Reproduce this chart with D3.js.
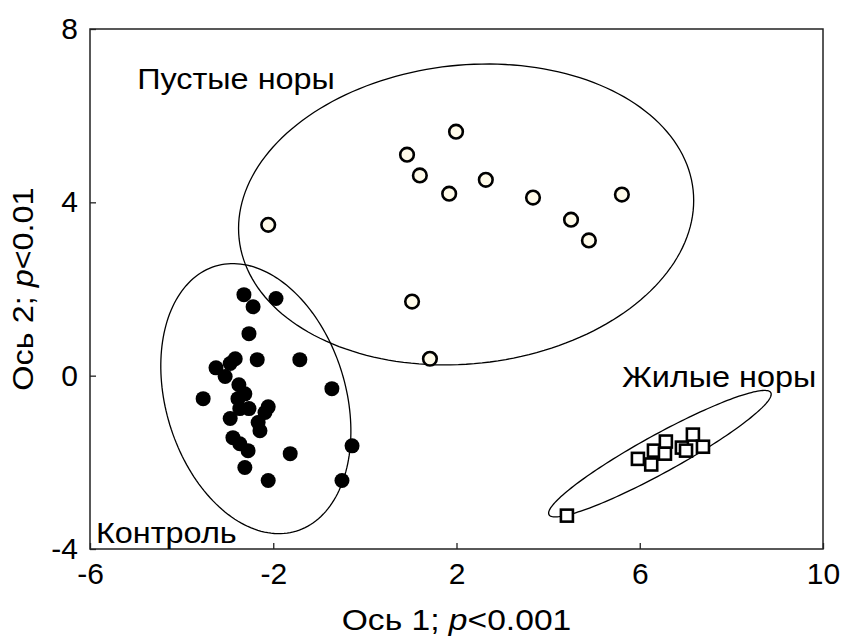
<!DOCTYPE html>
<html><head><meta charset="utf-8">
<script src="https://cdn.jsdelivr.net/npm/d3@7"></script>
<style>body{margin:0;background:#fff}svg{display:block}text{font-family:Arial,"Liberation Sans",sans-serif;fill:#000}</style>
</head><body><svg id="c" width="859" height="638"></svg>
<script>
// Empty burrows (open circles)
const emptyX = [-2.11, 0.92, 1.20, 1.99, 1.84, 2.64, 3.67, 4.50, 4.89, 5.61, 1.03, 1.42];
const emptyY = [3.48, 5.10, 4.62, 5.63, 4.20, 4.52, 4.11, 3.60, 3.12, 4.18, 1.71, 0.39];
// Control (filled circles)
const controlX = [-2.64,-1.94,-2.44,-2.53,-3.25,-3.05,-2.94,-2.83,-2.35,-1.42,-0.72,-3.53,-2.75,-2.62,-2.77,-2.73,-2.53,-2.94,-2.11,-2.18,-2.33,-2.29,-2.88,-2.73,-2.55,-1.63,-0.28,-2.62,-2.11,-0.50];
const controlY = [1.87,1.78,1.59,0.97,0.18,-0.02,0.28,0.39,0.37,0.37,-0.30,-0.53,-0.21,-0.42,-0.53,-0.76,-0.76,-0.99,-0.72,-0.85,-1.08,-1.27,-1.43,-1.57,-1.73,-1.80,-1.62,-2.12,-2.42,-2.42];
// Living burrows (open squares)
const livingX = [4.41, 5.96, 6.25, 6.31, 6.55, 6.57, 6.92, 7.01, 7.16, 7.38];
const livingY = [-3.23, -1.92, -2.05, -1.73, -1.80, -1.52, -1.66, -1.73, -1.36, -1.64];
// Ellipses: centre and two conjugate semi-axis vectors (data units)
const ellipseNames = ["Пустые норы", "Контроль", "Жилые норы"];
const ellipseCx = [2.21, -2.38, 6.44];
const ellipseCy = [3.72, -0.53, -1.80];
const ellipseA = [[4.955, 0.565], [0.884, -3.056], [2.421, 1.408]];
const ellipseB = [[0.350, -3.426], [-1.877, -0.607], [0.200, -0.384]];
// Group labels (anchor: left, baseline; data units)
const labelX = [-4.97, -5.87, 5.61];
const labelY = [6.62, -3.85, -0.25];
// Axes
const xTicks = [-6, -2, 2, 6, 10];
const yTicks = [-4, 0, 4, 8];

const svg = d3.select("#c");
const L = 90, R = 823, T = 29, B = 549;
const x = d3.scaleLinear().domain([-6, 10]).range([L, R]);
const y = d3.scaleLinear().domain([-4, 8]).range([B, T]);
const fmt = d => String(d); // plain hyphen-minus as in the original

// ellipses
const line = d3.line().x(d => x(d[0])).y(d => y(d[1]));
ellipseNames.forEach((n, i) => {
  const pts = d3.range(0, 361, 2).map(deg => {
    const t = deg * Math.PI / 180;
    return [ellipseCx[i] + ellipseA[i][0] * Math.cos(t) + ellipseB[i][0] * Math.sin(t),
            ellipseCy[i] + ellipseA[i][1] * Math.cos(t) + ellipseB[i][1] * Math.sin(t)];
  });
  svg.append("path").attr("d", line(pts) + "Z").attr("fill", "none").attr("stroke", "#000").attr("stroke-width", 1.3);
});

// frame
svg.append("rect").attr("x", L).attr("y", T).attr("width", R - L).attr("height", B - T)
  .attr("fill", "none").attr("stroke", "#222").attr("stroke-width", 1.5);

// axes (inward ticks)
const fs = 30;
const sx = 1.08; // slight horizontal stretch of the original lettering
const xAxis = svg.append("g").attr("transform", `translate(0,${B})`)
  .call(d3.axisBottom(x).tickValues(xTicks).tickSizeInner(-6).tickSizeOuter(0).tickPadding(14).tickFormat(fmt));
const yAxis = svg.append("g").attr("transform", `translate(${L},0)`)
  .call(d3.axisLeft(y).tickValues(yTicks).tickSizeInner(-6).tickSizeOuter(0).tickPadding(12).tickFormat(fmt));
[xAxis, yAxis].forEach(g => {
  g.select(".domain").remove();
  g.selectAll("line").attr("stroke", "#222").attr("stroke-width", 1.3);
  g.selectAll("text").attr("font-size", fs).attr("font-family", "Arial, 'Liberation Sans', sans-serif").attr("fill", "#000");
});
xAxis.selectAll("text").attr("dy", "0.71em");

// axis titles
const xt = svg.append("text").attr("transform", `translate(${(L + R) / 2},630) scale(1.12,1)`).attr("text-anchor", "middle").attr("font-size", fs);
xt.append("tspan").text("Ось 1; ");
xt.append("tspan").attr("font-style", "italic").text("p");
xt.append("tspan").text("<0.001");
const yt = svg.append("text").attr("transform", `translate(33,${(T + B) / 2}) rotate(-90) scale(${sx},1)`).attr("text-anchor", "middle").attr("font-size", fs);
yt.append("tspan").text("Ось 2; ");
yt.append("tspan").attr("font-style", "italic").text("p");
yt.append("tspan").text("<0.01");

// group labels
ellipseNames.forEach((n, i) => {
  svg.append("text").attr("transform", `translate(${x(labelX[i])},${y(labelY[i])}) scale(${sx},1)`).attr("font-size", fs).text(n);
});

// points
svg.append("g").selectAll("circle").data(controlX).join("circle")
  .attr("cx", (d, i) => x(d)).attr("cy", (d, i) => y(controlY[i])).attr("r", 7.5).attr("fill", "#000");
svg.append("g").selectAll("circle").data(emptyX).join("circle")
  .attr("cx", (d, i) => x(d)).attr("cy", (d, i) => y(emptyY[i])).attr("r", 6.8)
  .attr("fill", "#fffbea").attr("stroke", "#000").attr("stroke-width", 2.6);
const sq = 12;
svg.append("g").selectAll("rect").data(livingX).join("rect")
  .attr("x", (d, i) => x(d) - sq / 2).attr("y", (d, i) => y(livingY[i]) - sq / 2).attr("width", sq).attr("height", sq)
  .attr("fill", "#fff").attr("stroke", "#000").attr("stroke-width", 2.6);
</script></body></html>
